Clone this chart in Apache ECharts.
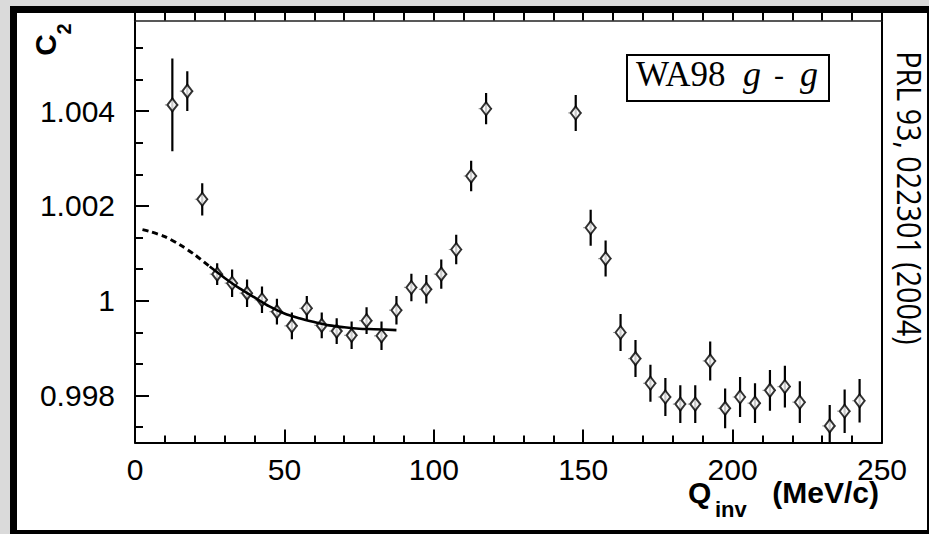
<!DOCTYPE html>
<html>
<head>
<meta charset="utf-8">
<script src="https://cdn.jsdelivr.net/npm/echarts@6.0.0/dist/echarts.min.js"></script>
<style>
html,body{margin:0;padding:0;background:#dadada;}
#frame{position:absolute;left:10px;top:6px;width:919px;height:528px;background:#000;}
#inner{position:absolute;left:17px;top:13px;width:910px;height:517px;background:#fff;}
#chart{position:absolute;left:0;top:0;width:929px;height:534px;}
</style>
</head>
<body>
<div id="frame"></div>
<div id="inner"></div>
<div id="chart"></div>
<script>
// ---- data ----
var qValues = [12.5, 17.5, 22.5, 27.5, 32.5, 37.5, 42.5, 47.5, 52.5, 57.5, 62.5, 67.5, 72.5, 77.5, 82.5, 87.5, 92.5, 97.5, 102.5, 107.5, 112.5, 117.5, 147.5, 152.5, 157.5, 162.5, 167.5, 172.5, 177.5, 182.5, 187.5, 192.5, 197.5, 202.5, 207.5, 212.5, 217.5, 222.5, 232.5, 237.5, 242.5];
var c2Values = [1.00413, 1.00442, 1.00214, 1.00056, 1.00037, 1.00016, 1.00002, 0.99977, 0.99947, 0.99984, 0.99948, 0.99936, 0.99927, 0.99958, 0.99926, 0.99980, 1.00028, 1.00024, 1.00056, 1.00108, 1.00263, 1.00405, 1.00396, 1.00154, 1.00089, 0.99933, 0.99878, 0.99826, 0.99797, 0.99782, 0.99782, 0.99873, 0.99773, 0.99797, 0.99784, 0.99811, 0.99819, 0.99786, 0.99736, 0.99767, 0.99789];
var c2Errors = [0.00098, 0.00042, 0.00034, 0.00023, 0.00029, 0.00029, 0.00028, 0.00027, 0.00028, 0.00026, 0.00027, 0.00027, 0.00029, 0.00028, 0.00030, 0.00030, 0.00029, 0.00030, 0.00031, 0.00031, 0.00032, 0.00033, 0.00038, 0.00038, 0.00038, 0.00039, 0.00039, 0.00039, 0.00040, 0.00040, 0.00040, 0.00041, 0.00042, 0.00042, 0.00042, 0.00043, 0.00044, 0.00044, 0.00044, 0.00046, 0.00046];
var qHalfWidth = 2.5;

var fitQDashed = [2.5, 5, 10, 15, 20, 25];
var fitCDashed = [1.00150, 1.00146, 1.00135, 1.00118, 1.00097, 1.00072];
var fitQSolid = [25, 30, 35, 40, 45, 50, 55, 60, 65, 70, 75, 80, 87.5];
var fitCSolid = [1.00072, 1.00048, 1.00026, 1.00007, 0.99988, 0.99973, 0.99963, 0.99955, 0.99948, 0.99944, 0.99941, 0.99940, 0.99938];

var xMin = 0, xMax = 250, xInterval = 50, xMinorStep = 10;
var yMin = 0.99701, yMax = 1.00591;
var yTickValues = [0.998, 1, 1.002, 1.004];
var yTickLabels = ['0.998', '1', '1.002', '1.004'];
var yMinorTicks = [0.997333, 0.998667, 0.999333, 1.000667, 1.001333, 1.002667, 1.003333, 1.004667, 1.005333];

var xTitleMain = 'Q', xTitleSub = 'inv', xTitleUnit = '(MeV/c)';
var yTitleMain = 'C', yTitleSub = '2';
var boxLabel = 'WA98', boxParticle = 'g', boxDash = '-';
var refText = 'PRL 93, 022301 (2004)';

// ---- build ----
var pointData = qValues.map(function (q, i) { return [q, c2Values[i], c2Errors[i]]; });
var dashedData = fitQDashed.map(function (q, i) { return [q, fitCDashed[i]]; });
var solidData = fitQSolid.map(function (q, i) { return [q, fitCSolid[i]]; });

var sansFont = "'Liberation Sans', Arial, Helvetica, sans-serif";
var serifFont = "'Liberation Serif', 'Times New Roman', serif";

var chart = echarts.init(document.getElementById('chart'), null, {renderer: 'svg'});

var option = {
  animation: false,
  grid: {left: 135, right: 47, top: 20.5, bottom: 91.5},
  xAxis: [
    {
      type: 'value', position: 'bottom', min: xMin, max: xMax, interval: xInterval,
      axisLine: {show: true, onZero: false, lineStyle: {color: '#000', width: 2}},
      axisTick: {show: true, inside: true, length: 13, lineStyle: {color: '#000', width: 2}},
      minorTick: {show: true, splitNumber: 5, length: 7, lineStyle: {color: '#000', width: 2}},
      axisLabel: {show: true, margin: 12, fontSize: 30, color: '#000', fontFamily: sansFont},
      splitLine: {show: false}
    },
    {
      type: 'value', position: 'top', min: xMin, max: xMax, interval: xMinorStep,
      axisLine: {show: true, onZero: false, lineStyle: {color: '#222', width: 1.5}},
      axisTick: {show: true, inside: false, length: 7.5, lineStyle: {color: '#000', width: 2}},
      axisLabel: {show: false},
      splitLine: {show: false}
    }
  ],
  yAxis: [
    {
      type: 'value', position: 'left', min: yMin, max: yMax,
      axisLine: {show: true, onZero: false, lineStyle: {color: '#000', width: 2}},
      axisTick: {show: true, inside: true, length: 14, customValues: yTickValues, lineStyle: {color: '#000', width: 2}},
      axisLabel: {
        show: true, margin: 20, fontSize: 30, color: '#000', fontFamily: sansFont,
        customValues: yTickValues,
        formatter: function (v) {
          for (var i = 0; i < yTickValues.length; i++) {
            if (Math.abs(v - yTickValues[i]) < 1e-7) return yTickLabels[i];
          }
          return '';
        }
      },
      splitLine: {show: false}
    },
    {
      type: 'value', position: 'left', min: yMin, max: yMax,
      axisLine: {show: false},
      axisTick: {show: true, inside: true, length: 8, customValues: yMinorTicks, lineStyle: {color: '#000', width: 2}},
      axisLabel: {show: false},
      splitLine: {show: false}
    },
    {
      type: 'value', position: 'right', min: yMin, max: yMax,
      axisLine: {show: true, onZero: false, lineStyle: {color: '#000', width: 2}},
      axisTick: {show: false},
      axisLabel: {show: false},
      splitLine: {show: false}
    }
  ],
  series: [
    {
      type: 'custom', name: 'xerr', xAxisIndex: 0, yAxisIndex: 0, clip: true, z: 3,
      data: pointData,
      renderItem: function (params, api) {
        var c = api.value(1), q = api.value(0);
        var l = api.coord([q - qHalfWidth, c]);
        var r = api.coord([q + qHalfWidth, c]);
        return {type: 'line', shape: {x1: l[0], y1: l[1], x2: r[0], y2: r[1]}, style: {stroke: '#a0a0a0', lineWidth: 1.2, lineDash: [1.5, 1.5], fill: null}};
      }
    },
    {
      type: 'custom', name: 'yerr', xAxisIndex: 0, yAxisIndex: 0, clip: true, z: 3,
      data: pointData,
      renderItem: function (params, api) {
        var q = api.value(0), c = api.value(1), e = api.value(2);
        var top = api.coord([q, c + e]);
        var bot = api.coord([q, c - e]);
        return {type: 'line', shape: {x1: top[0], y1: top[1], x2: bot[0], y2: bot[1]}, style: {stroke: '#000', lineWidth: 2.2, fill: null}};
      }
    },
    {
      type: 'scatter', name: 'C2', xAxisIndex: 0, yAxisIndex: 0, z: 4,
      data: pointData.map(function (d) { return [d[0], d[1]]; }),
      symbol: 'diamond', symbolSize: [10, 13],
      itemStyle: {color: '#fff', borderColor: '#000', borderWidth: 2}
    },
    {
      type: 'line', name: 'fit-extrap', xAxisIndex: 0, yAxisIndex: 0, z: 5,
      data: dashedData, showSymbol: false, symbol: 'none', smooth: 0.3,
      lineStyle: {color: '#000', width: 3, type: [6, 4], cap: 'butt'}
    },
    {
      type: 'line', name: 'fit', xAxisIndex: 0, yAxisIndex: 0, z: 5,
      data: solidData, showSymbol: false, symbol: 'none', smooth: 0.3,
      lineStyle: {color: '#000', width: 2.6}
    }
  ],
  graphic: [
    {type: 'rect', z: 10, shape: {x: 627, y: 55, width: 202, height: 46}, style: {fill: '#fff', stroke: '#000', lineWidth: 2}},
    {type: 'text', z: 11, x: 636, y: 74, style: {text: boxLabel, font: "35px " + serifFont, fill: '#000', align: 'left', verticalAlign: 'middle'}},
    {type: 'text', z: 11, x: 743, y: 74, style: {text: boxParticle, font: "italic 36px " + serifFont, fill: '#000', align: 'left', verticalAlign: 'middle'}},
    {type: 'text', z: 11, x: 774, y: 74, style: {text: boxDash, font: "30px " + serifFont, fill: '#000', align: 'left', verticalAlign: 'middle'}},
    {type: 'text', z: 11, x: 800, y: 74, style: {text: boxParticle, font: "italic 36px " + serifFont, fill: '#000', align: 'left', verticalAlign: 'middle'}},
    {type: 'text', z: 11, x: 688, y: 492, style: {text: xTitleMain, font: "bold 30px " + sansFont, fill: '#000', align: 'left', verticalAlign: 'middle'}},
    {type: 'text', z: 11, x: 715, y: 509, style: {text: xTitleSub, font: "bold 22px " + sansFont, fill: '#000', align: 'left', verticalAlign: 'middle'}},
    {type: 'text', z: 11, x: 879, y: 492, style: {text: xTitleUnit, font: "bold 30px " + sansFont, fill: '#000', align: 'right', verticalAlign: 'middle'}},
    {type: 'text', z: 11, x: 45, y: 45, rotation: Math.PI / 2, style: {text: yTitleMain, font: "bold 30px " + sansFont, fill: '#000', align: 'center', verticalAlign: 'middle'}},
    {type: 'text', z: 11, x: 64, y: 29, rotation: Math.PI / 2, style: {text: yTitleSub, font: "bold 20px " + sansFont, fill: '#000', align: 'center', verticalAlign: 'middle'}},
    {type: 'text', z: 11, x: 910, y: 198, rotation: -Math.PI / 2, scaleX: 0.87, style: {text: refText, font: "33px 'Open Sans', 'DejaVu Sans', sans-serif", fill: '#000', align: 'center', verticalAlign: 'middle'}}
  ]
};
chart.setOption(option);
</script>
</body>
</html>
